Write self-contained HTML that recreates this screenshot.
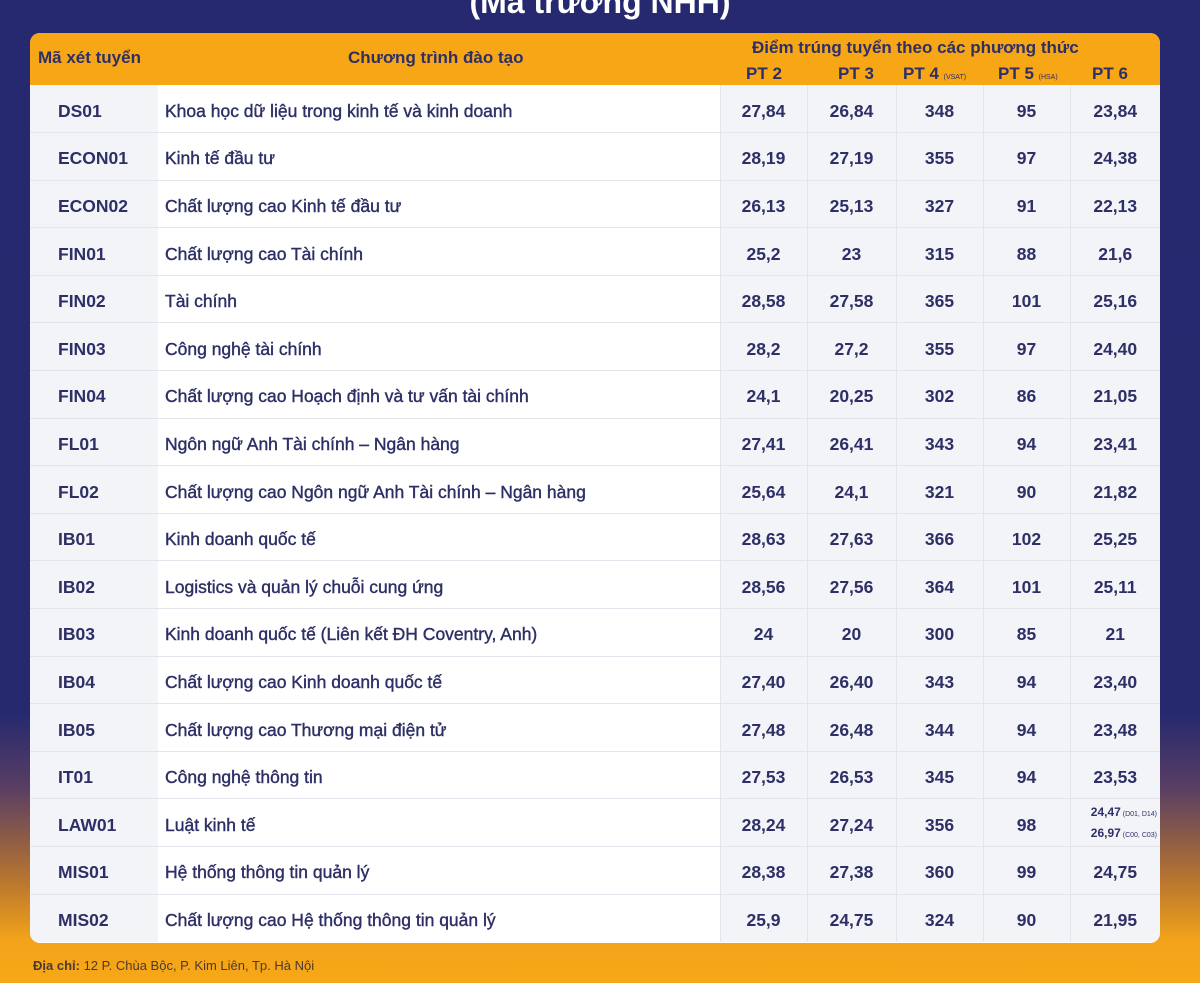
<!DOCTYPE html>
<html><head><meta charset="utf-8"><style>
*{margin:0;padding:0;box-sizing:border-box}
body{width:1200px;height:983px;overflow:hidden;font-family:"Liberation Sans","DejaVu Sans",sans-serif;
background:linear-gradient(180deg,#26296f 0px,#27296e 715px,#5b3f63 790px,#b8752f 880px,#f2a31a 940px,#f7a817 983px);position:relative;color:#2d2f66}
.title{position:absolute;top:-16px;left:0;width:1200px;text-align:center;color:#fff;font-size:32px;font-weight:bold}
.panel{position:absolute;left:30px;top:33px;width:1130px;height:910px;background:#fff;border-radius:10px;overflow:hidden}
.hdr{position:absolute;left:0;top:0;width:1130px;height:52px;background:#f7a616;font-weight:bold;font-size:17px;color:#2d2f66}
.hdr div{position:absolute}
table{position:absolute;left:0;top:52px;border-collapse:collapse;table-layout:fixed}
td{height:47.6px;border-bottom:1px solid #e4e5ec;font-size:17.5px;font-weight:bold;color:#2d2f66;text-align:center;padding-top:5px}
td.c{background:#f3f4f8;text-align:left;padding-left:28px}
td.n{background:#fff;text-align:left;padding-left:7px;font-weight:normal;-webkit-text-stroke:0.4px #2d2f66}
td.v{background:#f3f4f8;border-left:1px solid #e4e5ec}
tr:last-child td{border-bottom:none}
small{font-size:7px;font-weight:normal}
.foot{position:absolute;left:33px;top:958px;font-size:13px;color:#4a3a30}
</style></head><body>
<div class="title">(Mã trường NHH)</div>
<div class="panel">
<div class="hdr">
<div style="left:8px;top:15px">Mã xét tuyển</div>
<div style="left:318px;top:15px">Chương trình đào tạo</div>
<div style="left:722px;top:5px">Điểm trúng tuyển theo các phương thức</div>
<div style="left:716px;top:31px">PT 2</div>
<div style="left:808px;top:31px">PT 3</div>
<div style="left:873px;top:31px">PT 4 <small>(VSAT)</small></div>
<div style="left:968px;top:31px">PT 5 <small>(HSA)</small></div>
<div style="left:1062px;top:31px">PT 6</div>
</div>
<table>
<colgroup><col style="width:128px"><col style="width:562px"><col style="width:87px"><col style="width:89px"><col style="width:87px"><col style="width:87px"><col style="width:90px"></colgroup>
<tr><td class="c">DS01</td><td class="n">Khoa học dữ liệu trong kinh tế và kinh doanh</td><td class="v">27,84</td><td class="v">26,84</td><td class="v">348</td><td class="v">95</td><td class="v">23,84</td></tr>
<tr><td class="c">ECON01</td><td class="n">Kinh tế đầu tư</td><td class="v">28,19</td><td class="v">27,19</td><td class="v">355</td><td class="v">97</td><td class="v">24,38</td></tr>
<tr><td class="c">ECON02</td><td class="n">Chất lượng cao Kinh tế đầu tư</td><td class="v">26,13</td><td class="v">25,13</td><td class="v">327</td><td class="v">91</td><td class="v">22,13</td></tr>
<tr><td class="c">FIN01</td><td class="n">Chất lượng cao Tài chính</td><td class="v">25,2</td><td class="v">23</td><td class="v">315</td><td class="v">88</td><td class="v">21,6</td></tr>
<tr><td class="c">FIN02</td><td class="n">Tài chính</td><td class="v">28,58</td><td class="v">27,58</td><td class="v">365</td><td class="v">101</td><td class="v">25,16</td></tr>
<tr><td class="c">FIN03</td><td class="n">Công nghệ tài chính</td><td class="v">28,2</td><td class="v">27,2</td><td class="v">355</td><td class="v">97</td><td class="v">24,40</td></tr>
<tr><td class="c">FIN04</td><td class="n">Chất lượng cao Hoạch định và tư vấn tài chính</td><td class="v">24,1</td><td class="v">20,25</td><td class="v">302</td><td class="v">86</td><td class="v">21,05</td></tr>
<tr><td class="c">FL01</td><td class="n">Ngôn ngữ Anh Tài chính – Ngân hàng</td><td class="v">27,41</td><td class="v">26,41</td><td class="v">343</td><td class="v">94</td><td class="v">23,41</td></tr>
<tr><td class="c">FL02</td><td class="n">Chất lượng cao Ngôn ngữ Anh Tài chính – Ngân hàng</td><td class="v">25,64</td><td class="v">24,1</td><td class="v">321</td><td class="v">90</td><td class="v">21,82</td></tr>
<tr><td class="c">IB01</td><td class="n">Kinh doanh quốc tế</td><td class="v">28,63</td><td class="v">27,63</td><td class="v">366</td><td class="v">102</td><td class="v">25,25</td></tr>
<tr><td class="c">IB02</td><td class="n">Logistics và quản lý chuỗi cung ứng</td><td class="v">28,56</td><td class="v">27,56</td><td class="v">364</td><td class="v">101</td><td class="v">25,11</td></tr>
<tr><td class="c">IB03</td><td class="n">Kinh doanh quốc tế (Liên kết ĐH Coventry, Anh)</td><td class="v">24</td><td class="v">20</td><td class="v">300</td><td class="v">85</td><td class="v">21</td></tr>
<tr><td class="c">IB04</td><td class="n">Chất lượng cao Kinh doanh quốc tế</td><td class="v">27,40</td><td class="v">26,40</td><td class="v">343</td><td class="v">94</td><td class="v">23,40</td></tr>
<tr><td class="c">IB05</td><td class="n">Chất lượng cao Thương mại điện tử</td><td class="v">27,48</td><td class="v">26,48</td><td class="v">344</td><td class="v">94</td><td class="v">23,48</td></tr>
<tr><td class="c">IT01</td><td class="n">Công nghệ thông tin</td><td class="v">27,53</td><td class="v">26,53</td><td class="v">345</td><td class="v">94</td><td class="v">23,53</td></tr>
<tr><td class="c">LAW01</td><td class="n">Luật kinh tế</td><td class="v">28,24</td><td class="v">27,24</td><td class="v">356</td><td class="v">98</td><td class="v" style="font-size:12px;line-height:18px;text-align:right;padding-right:3px;padding-top:2px">24,47<small> (D01, D14)</small><br>26,97<small> (C00, C03)</small></td></tr>
<tr><td class="c">MIS01</td><td class="n">Hệ thống thông tin quản lý</td><td class="v">28,38</td><td class="v">27,38</td><td class="v">360</td><td class="v">99</td><td class="v">24,75</td></tr>
<tr><td class="c">MIS02</td><td class="n">Chất lượng cao Hệ thống thông tin quản lý</td><td class="v">25,9</td><td class="v">24,75</td><td class="v">324</td><td class="v">90</td><td class="v">21,95</td></tr>
</table>
</div>
<div class="foot"><b>Địa chỉ:</b> 12 P. Chùa Bộc, P. Kim Liên, Tp. Hà Nội</div>
</body></html>
